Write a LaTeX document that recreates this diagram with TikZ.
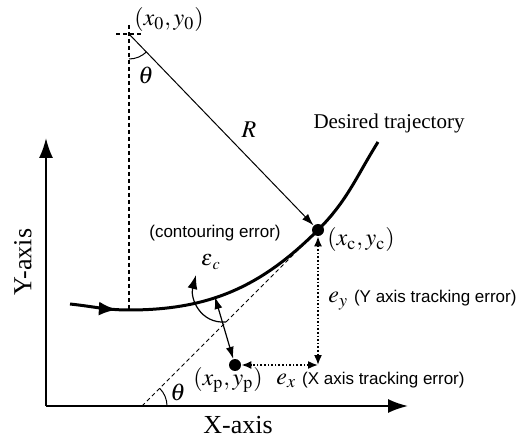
\documentclass[tikz,border=0pt]{standalone}
\usepackage{mathptmx}
\usepackage{fontspec}
\setmainfont{Liberation Serif}
\setsansfont{Liberation Sans}
\usetikzlibrary{arrows.meta,calc,decorations.markings,positioning}
\tikzset{
  axisline/.style={line width=1pt,-{Latex[length=10pt,width=7pt]}},
  traj/.style={line width=1.5pt,postaction={decorate},
    decoration={markings,mark=at position 0.125 with {\arrow{Latex[length=9pt,width=7pt]}}}},
  guide/.style={line width=0.5pt,dash pattern=on 2pt off 1.5pt},
  trackerr/.style={densely dotted,line width=0.8pt,
    {Latex[length=5pt,width=4pt]}-{Latex[length=5pt,width=4pt]}},
  radiusline/.style={line width=0.5pt,-{Latex[length=6pt,width=4pt]}},
  contour/.style={line width=0.6pt,{Latex[length=6pt,width=4pt]}-{Latex[length=6pt,width=4pt]}},
  dotpt/.style={circle,fill,inner sep=0pt,minimum size=6pt},
  mathlabel/.style={font=\fontsize{12}{14}\selectfont,inner sep=0.5pt},
  sanslabel/.style={font=\sffamily\fontsize{8.5}{10}\selectfont,inner sep=0.5pt},
  axislabel/.style={font=\fontsize{13}{15}\selectfont,inner sep=1pt},
  seriflabel/.style={font=\fontsize{10.5}{12}\selectfont,inner sep=1pt}
}

\begin{document}
\begin{tikzpicture}[x=0.5pt,y=0.5pt]
  \useasboundingbox (0,0) rectangle (528,438);
  % points
  \coordinate (origin) at (46,32);
  \coordinate (ytop) at (46,300);
  \coordinate (xend) at (408,32);
  \coordinate (ctr) at (129,404);
  \coordinate (start) at (70,134);
  \coordinate (low) at (129,128);
  \coordinate (tend) at (378,296);
  \coordinate (cpt) at (215,141);
  \coordinate (corner) at (318,73);
  \coordinate (tanfoot) at (142,32);
  \coordinate (tantop) at (333,223);
  \node[dotpt] (c) at (318,208) {};
  \node[dotpt] (p) at (235,73) {};
  % axes
  \draw[axisline] (origin) -- (ytop);
  \draw[axisline] (origin) -- (xend);
  % centre and radius
  \draw[guide,line width=0.7pt] (116,404) -- (142,404);
  \draw[guide,line width=0.7pt] (129,413) -- (low);
  \draw[radiusline] (ctr) -- (c);
  \draw[line width=0.5pt] ($(ctr)+(270:25)$) arc[start angle=270,end angle=314,radius=25];
  % trajectory and tangent
  \draw[traj] (start) to[out=-6,in=180] (low) to[out=0,in=225] (c.center)
    to[out=45,in=238] (tend);
  \draw[guide] (tanfoot) -- (tantop);
  \draw[line width=0.5pt] ($(tanfoot)+(25,0)$) arc[start angle=0,end angle=45,radius=25];
  % errors
  \draw[trackerr] (c) -- (corner);
  \draw[trackerr] (corner) -- (p);
  \draw[contour] (cpt) -- (p);
  \draw[line width=0.6pt,-{Latex[length=7pt,width=5pt]}] (226,116)
    .. controls (200,114) and (190,140) .. (196,163);
  % labels
  \node[mathlabel] (lctr) at (169,418) {$(x_{\mathrm{0}},y_{\mathrm{0}})$};
  \node[mathlabel] (lth1) at (146,363) {$\theta$};
  \node[mathlabel] (lR) at (249,308) {$R$};
  \node[seriflabel] (ldes) at (389,315) {Desired trajectory};
  \node[mathlabel] (lc) at (361,198) {$(x_{\mathrm{c}},y_{\mathrm{c}})$};
  \node[sanslabel] (lcont) at (215,205) {(contouring error)};
  \node[mathlabel,font=\fontsize{11}{13}\selectfont] (leps) at (211,176) {$\varepsilon_{\kern1pt c}$};
  \node[anchor=west,inner sep=1pt] (ley) at (326,138)
    {\fontsize{12}{14}\selectfont$e_y$ \sffamily\fontsize{8.5}{10}\selectfont(Y axis tracking error)};
  \node[anchor=west,inner sep=1pt] (lex) at (274,58)
    {\fontsize{12}{14}\selectfont$e_x$ \sffamily\fontsize{8.5}{10}\selectfont(X axis tracking error)};
  \node[mathlabel] (lp) at (228,58) {$(x_{\mathrm{p}},y_{\mathrm{p}})$};
  \node[mathlabel] (lth2) at (178,46) {$\theta$};
  \node[axislabel] (lx) at (238,13) {X-axis};
  \node[axislabel,rotate=90] (ly) at (23,176) {Y-axis};
\end{tikzpicture}
\end{document}
